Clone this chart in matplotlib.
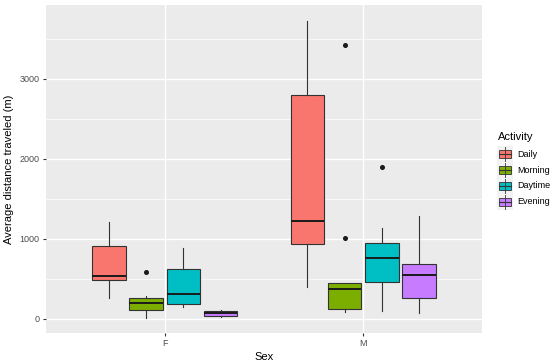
import matplotlib
matplotlib.use("Agg")
from matplotlib import pyplot as plt
from matplotlib.patches import Rectangle

plt.rcParams['font.family'] = ['Liberation Sans', 'DejaVu Sans']

sexes = ["F", "M"]
activities = ["Daily", "Morning", "Daytime", "Evening"]
colors = ["#F8766D", "#7CAE00", "#00BFC4", "#C77CFF"]

# box stats per activity, [F, M]
whislo = {"Daily": [258, 404], "Morning": [8, 92], "Daytime": [154, 100], "Evening": [21, 71]}
q1 = {"Daily": [483, 942], "Morning": [112, 129], "Daytime": [187, 458], "Evening": [37, 267]}
med = {"Daily": [537, 1225], "Morning": [204, 379], "Daytime": [312, 758], "Evening": [71, 546]}
q3 = {"Daily": [917, 2796], "Morning": [267, 454], "Daytime": [621, 950], "Evening": [100, 683]}
whishi = {"Daily": [1216, 3729], "Morning": [287, 454], "Daytime": [892, 1133], "Evening": [112, 1288]}
fliers = {"Daily": [[], []], "Morning": [[587], [3429, 1017]], "Daytime": [[], [1896]], "Evening": [[], []]}

fig = plt.figure(figsize=(5.5, 3.63), dpi=100)
ax = fig.add_axes([46/550, 1-333/363, (482-46)/550, (333-5)/363])
ax.set_facecolor("#EBEBEB")

offsets = [-0.28125, -0.09375, 0.09375, 0.28125]
edge = "#333333"
for k, act in enumerate(activities):
    stats = []
    pos = []
    for i in range(2):
        stats.append(dict(med=med[act][i], q1=q1[act][i], q3=q3[act][i],
                          whislo=whislo[act][i], whishi=whishi[act][i],
                          fliers=fliers[act][i]))
        pos.append(i + 1 + offsets[k])
    ax.bxp(stats, positions=pos, widths=0.17, patch_artist=True, showcaps=False,
           boxprops=dict(facecolor=colors[k], edgecolor=edge, linewidth=0.8),
           medianprops=dict(color="#1a1a1a", linewidth=1.4),
           whiskerprops=dict(color=edge, linewidth=0.8),
           flierprops=dict(marker="o", markerfacecolor="#1a1a1a", markeredgecolor="#1a1a1a",
                           markersize=2.6),
           zorder=3)

ax.set_xlim(0.4, 2.6)
ax.set_ylim(-175, 3925)
ax.set_xticks([1, 2])
ax.set_xticklabels(sexes)
ax.set_yticks([0, 1000, 2000, 3000])
ax.set_yticks([500, 1500, 2500, 3500], minor=True)
ax.grid(True, which="major", color="white", linewidth=1.0, zorder=0)
ax.grid(True, which="minor", axis="y", color="white", linewidth=0.5, zorder=0)
ax.set_axisbelow(True)
for s in ax.spines.values():
    s.set_visible(False)
ax.tick_params(axis="both", which="major", length=2.5, color="#333333", labelcolor="#4D4D4D",
               labelsize=6.5, pad=2)
ax.tick_params(axis="y", which="minor", length=0)
ax.set_xlabel("Sex", fontsize=8, labelpad=3)
ax.set_ylabel("Average distance traveled (m)", fontsize=8, labelpad=4)

# legend
fig.text(498/550, 1-137/363, "Activity", fontsize=8, va="center", ha="left")
for k, act in enumerate(activities):
    yc = 154 + 16*k
    kax = fig.add_axes([497/550, 1-(yc+8)/363, 16/550, 16/363])
    kax.set_xlim(0, 1)
    kax.set_ylim(0, 1)
    kax.axis("off")
    kax.add_patch(Rectangle((0, 0), 1, 1, facecolor="#F2F2F2", edgecolor="none"))
    kax.plot([0.5, 0.5], [0.05, 0.95], color=edge, linewidth=0.6)
    kax.add_patch(Rectangle((0.1, 0.25), 0.8, 0.5, facecolor=colors[k], edgecolor=edge, linewidth=0.6))
    kax.plot([0.1, 0.9], [0.5, 0.5], color=edge, linewidth=0.8)
    fig.text(517/550, 1-yc/363, act, fontsize=6.5, va="center", ha="left")

fig.savefig("out.png", dpi=100)
